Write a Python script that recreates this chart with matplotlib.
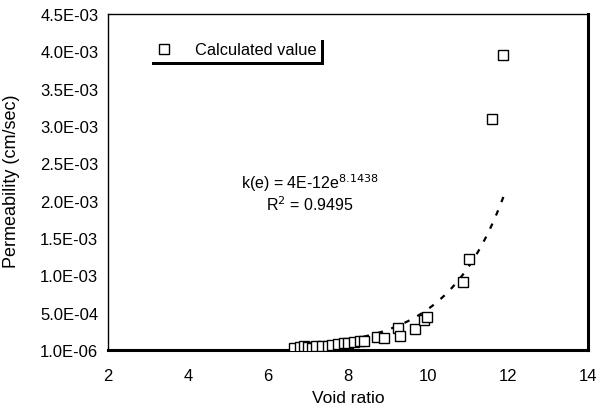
import numpy as np
import matplotlib.pyplot as plt

plt.rcParams['font.family'] = ['Liberation Sans', 'DejaVu Sans']

# measured points (void ratio, permeability cm/sec)
void_ratio = [6.65, 6.8, 6.9, 7.0, 7.1, 7.2, 7.35, 7.5, 7.6, 7.75, 7.9, 8.0, 8.15,
              8.3, 8.4, 8.73, 8.9, 9.25, 9.3, 9.68, 9.9, 9.98, 10.88, 11.03, 11.6, 11.88]
permeability = [3.0e-5, 4.0e-5, 5.0e-5, 4.0e-5, 3.0e-5, 5.0e-5, 6.0e-5, 6.0e-5, 7.0e-5,
                8.0e-5, 9.0e-5, 1.0e-4, 1.1e-4, 1.2e-4, 1.2e-4, 1.7e-4, 1.6e-4, 2.9e-4,
                1.9e-4, 2.8e-4, 4.0e-4, 4.4e-4, 9.1e-4, 1.22e-3, 3.1e-3, 3.95e-3]

# exponential trend as drawn on the chart
trend_a = 5.0e-7
trend_b = 0.70
trend_x = np.linspace(6.6, 11.9, 100)

y_ticks = [0, 5e-4, 1e-3, 1.5e-3, 2e-3, 2.5e-3, 3e-3, 3.5e-3, 4e-3, 4.5e-3]
y_labels = ['1.0E-06', '5.0E-04', '1.0E-03', '1.5E-03', '2.0E-03',
            '2.5E-03', '3.0E-03', '3.5E-03', '4.0E-03', '4.5E-03']
x_ticks = [2, 4, 6, 8, 10, 12, 14]

fig = plt.figure(figsize=(5.98, 4.14), dpi=100)
ax = fig.add_axes([0.1806, 0.1522, 0.8027, 0.8116])

ax.plot(void_ratio, permeability, 's', mfc='white', mec='black', ms=7, mew=1,
        label='Calculated value', zorder=3)
ax.plot(trend_x, trend_a * np.exp(trend_b * trend_x), color='black', lw=1.6,
        dashes=(2.5, 4), zorder=2)

ax.set_xlim(2, 14)
ax.set_ylim(0, 4.5e-3)
ax.set_xticks(x_ticks)
ax.set_yticks(y_ticks)
ax.set_yticklabels(y_labels)
ax.tick_params(labelsize=12, length=0)
ax.tick_params(axis='y', pad=7)
ax.tick_params(axis='x', pad=13)
ax.set_xlabel('Void ratio', fontsize=12.5)
ax.set_ylabel('Permeability (cm/sec)', fontsize=13)
ax.xaxis.set_label_coords(0.5, -0.119)
ax.yaxis.set_label_coords(-0.183, 0.506)

for s in ax.spines.values():
    s.set_linewidth(1)
ax.spines['right'].set_linewidth(2.2)
ax.spines['bottom'].set_linewidth(2.2)

ax.text(0.42, 0.5, 'k(e) = 4E-12e$^{8.1438}$', transform=ax.transAxes,
        ha='center', va='center', fontsize=11.5)
ax.text(0.42, 0.435, 'R$^2$ = 0.9495', transform=ax.transAxes,
        ha='center', va='center', fontsize=11.5)

leg = ax.legend(loc='upper left', bbox_to_anchor=(0.085, 0.93), fontsize=11.8,
                frameon=True, fancybox=False, handletextpad=1.3, borderpad=0.3,
                handlelength=1.2, borderaxespad=0,
                shadow={'color': 'black', 'ox': 2, 'oy': -2, 'alpha': 1})
leg.get_frame().set_edgecolor('white')
leg.get_frame().set_linewidth(0)

fig.savefig('out.png', dpi=100)
